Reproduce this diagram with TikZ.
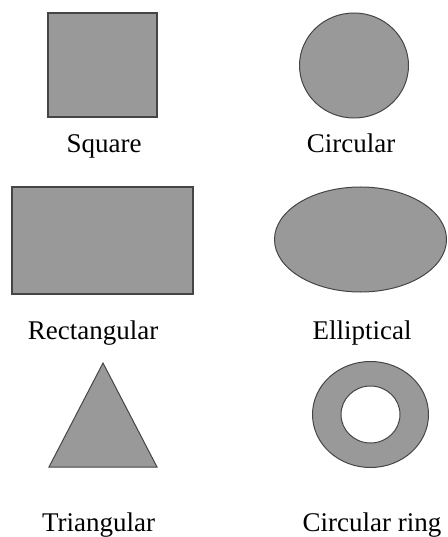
\documentclass[tikz,border=0pt]{standalone}
\usepackage{fontspec}
\setmainfont{Liberation Serif}
\usetikzlibrary{shapes.geometric,positioning}
\definecolor{shapefill}{HTML}{999999}
\definecolor{shapeedge}{HTML}{454545}

\begin{document}
\begin{tikzpicture}[x=1pt, y=-1pt,
  boxshape/.style={rectangle, fill=shapefill, draw=shapeedge, line width=1.8pt, inner sep=0pt},
  roundshape/.style={ellipse, fill=shapefill, draw=shapeedge, line width=1pt, inner sep=0pt},
  caption/.style={font=\fontsize{27}{30}\selectfont, anchor=base, inner sep=0pt}]
\useasboundingbox (0,0) rectangle (447,537);

% === Row 1: square and circle ===
\node[boxshape, minimum width=109pt, minimum height=104pt] (square) at (102.5, 65) {};
\node[roundshape, minimum width=109pt, minimum height=105pt] (circ) at (354, 65.5) {};
\node[caption] (squarelbl) at (104, 153) {Square};
\node[caption] (circlbl) at (351, 153) {Circular};

% === Row 2: rectangle and ellipse ===
\node[boxshape, minimum width=181pt, minimum height=107pt] (rect) at (102.5, 240.5) {};
\node[roundshape, minimum width=172pt, minimum height=105pt] (ell) at (360.5, 239.5) {};
\node[caption] (rectlbl) at (93, 339) {Rectangular};
\node[caption] (elllbl) at (362, 339) {Elliptical};

% === Row 3: triangle and ring ===
\coordinate (tritop) at (103, 363);
\coordinate (trileft) at (49, 467);
\coordinate (triright) at (157, 467);
\filldraw[fill=shapefill, draw=shapeedge, line width=1pt, line join=miter]
  (tritop) -- (trileft) -- (triright) -- cycle;
\node[roundshape, minimum width=116pt, minimum height=106pt] (ring) at (370.5, 414.5) {};
\node[roundshape, fill=white, minimum width=59pt, minimum height=57pt] (hole) at (ring.center) {};
\node[caption] (trilbl) at (98.5, 531) {Triangular};
\node[caption] (ringlbl) at (372, 531) {Circular ring};
\end{tikzpicture}
\end{document}
